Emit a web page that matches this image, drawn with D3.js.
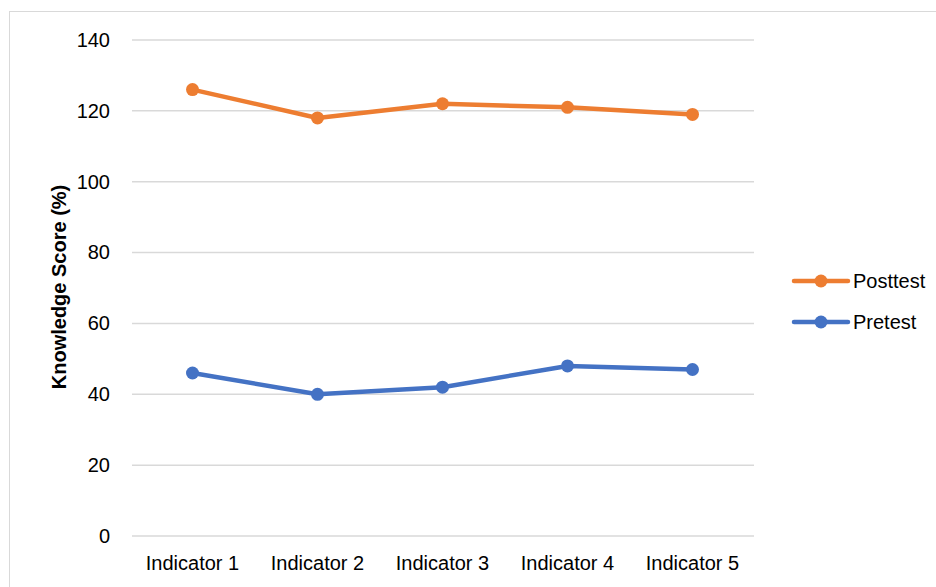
<!DOCTYPE html>
<html><head><meta charset="utf-8">
<script src="https://cdn.jsdelivr.net/npm/d3@7"></script>
<style>
body{margin:0;background:#fff;}
text{font-family:"Liberation Sans Narrow","Arial Narrow","Liberation Sans",Arial,sans-serif;}
</style></head>
<body><svg id="c" width="936" height="587"></svg>
<script>
const categories = ["Indicator 1","Indicator 2","Indicator 3","Indicator 4","Indicator 5"];
const posttest = [126,118,122,121,119];
const pretest = [46,40,42,48,47];
const yTicks = [0,20,40,60,80,100,120,140];
const seriesNames = ["Posttest","Pretest"];
const colors = ["#ED7D31","#4472C4"];

const svg = d3.select("#c");
svg.append("rect").attr("x",9.5).attr("y",11.5).attr("width",940).attr("height",600)
  .attr("fill","none").attr("stroke","#d9d9d9").attr("stroke-width",1);

const x = d3.scaleBand().domain(categories).range([130,755]);
const y = d3.scaleLinear().domain([0,140]).range([536,40]);

const grid = svg.append("g");
grid.selectAll("line").data(yTicks).join("line")
  .attr("x1",132).attr("x2",754)
  .attr("y1",d=>y(d)).attr("y2",d=>y(d))
  .attr("stroke","#d9d9d9").attr("stroke-width",1.5);

const yAxis = svg.append("g").attr("transform","translate(132,0)")
  .call(d3.axisLeft(y).tickValues(yTicks).tickSize(0).tickPadding(22));
yAxis.select(".domain").remove();
yAxis.selectAll("text").attr("font-size",20).attr("fill","#000")
  .style("font-family",'"Liberation Sans Narrow","Arial Narrow","Liberation Sans",Arial,sans-serif');

const xAxis = svg.append("g").attr("transform","translate(0,536)")
  .call(d3.axisBottom(x).tickSize(0).tickPadding(20));
xAxis.select(".domain").remove();
xAxis.selectAll("text").attr("font-size",20).attr("fill","#000")
  .style("font-family",'"Liberation Sans Narrow","Arial Narrow","Liberation Sans",Arial,sans-serif');

svg.append("text").attr("transform","translate(66,287) rotate(-90)")
  .attr("text-anchor","middle").attr("font-size",20).attr("font-weight","bold")
  .text("Knowledge Score (%)");

const data = [posttest, pretest];
const line = d3.line().x((d,i)=>x(categories[i])+x.bandwidth()/2).y(d=>y(d));
data.forEach((s,k)=>{
  svg.append("path").datum(s).attr("d",line).attr("fill","none")
    .attr("stroke",colors[k]).attr("stroke-width",4.5).attr("stroke-linejoin","round").attr("stroke-linecap","round");
  svg.append("g").selectAll("circle").data(s).join("circle")
    .attr("cx",(d,i)=>x(categories[i])+x.bandwidth()/2).attr("cy",d=>y(d))
    .attr("r",6.5).attr("fill",colors[k]);
});

const leg = svg.append("g");
seriesNames.forEach((n,k)=>{
  const ly = 281 + k*41;
  leg.append("line").attr("x1",794).attr("x2",848).attr("y1",ly).attr("y2",ly)
    .attr("stroke",colors[k]).attr("stroke-width",4.5).attr("stroke-linecap","round");
  leg.append("circle").attr("cx",821).attr("cy",ly).attr("r",6.5).attr("fill",colors[k]);
  leg.append("text").attr("x",853).attr("y",ly).attr("dy","0.35em").attr("font-size",20).text(n);
});
</script></body></html>
